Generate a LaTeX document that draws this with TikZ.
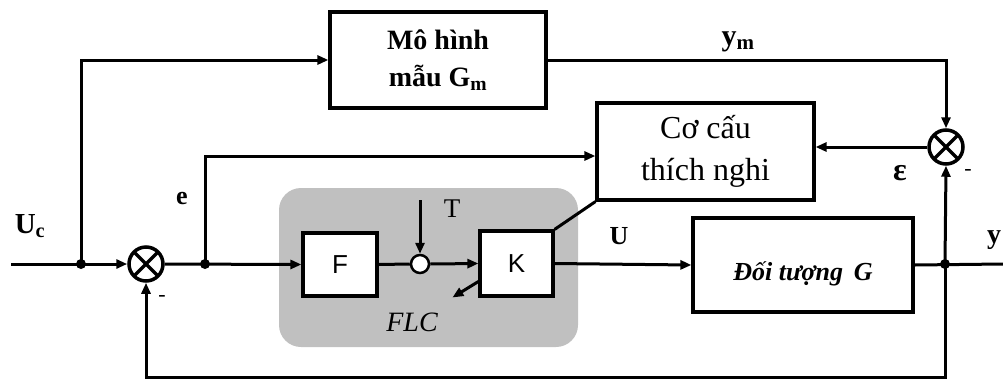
\documentclass[tikz,border=0pt]{standalone}
\usepackage{fontspec}
\setmainfont{Liberation Serif}
\newfontfamily\sansf{Liberation Sans}
\usetikzlibrary{arrows.meta,calc}
\definecolor{flcgray}{RGB}{192,192,192}
\begin{document}
\begin{tikzpicture}[x=1pt,y=-1pt,line width=3pt,
  arr/.style={-{Triangle[length=11pt,width=9pt]}},
  blk/.style={draw,fill=white,line width=3.2pt,align=center,inner sep=0pt},
  sumj/.style={circle,draw,fill=white,line width=3.5pt,minimum size=34pt,inner sep=0pt,
    path picture={\draw[line width=3.5pt]
      (path picture bounding box.north west)--(path picture bounding box.south east)
      (path picture bounding box.north east)--(path picture bounding box.south west);}},
  jdot/.style={circle,fill,inner sep=0pt,minimum size=10pt},
  blbl/.style={font=\fontsize{26}{30}\selectfont\bfseries,inner sep=0pt},
  rlbl/.style={font=\fontsize{27}{30}\selectfont,inner sep=0pt},
  sgn/.style={font=\fontsize{22}{26}\selectfont,inner sep=0pt}]
\useasboundingbox (0,0) rectangle (1003,381);

% FLC background
\node[fill=flcgray,rounded corners=22pt,minimum width=299pt,minimum height=159pt,inner sep=0pt] (flc) at (428.5,267.5) {};

% blocks
\node[blk,minimum width=216pt,minimum height=96pt,font=\fontsize{28}{37}\selectfont\bfseries] (gm) at (438,60) {Mô hình\\mẫu G\textsubscript{m}};
\node[blk,minimum width=217pt,minimum height=97pt,font=\fontsize{32}{42}\selectfont] (adapt) at (705.5,151.5) {Cơ cấu\\thích nghi};
\node[blk,minimum width=74pt,minimum height=63pt,font=\sansf\fontsize{26}{30}\selectfont] (F) at (340,264.5) {F};
\node[blk,minimum width=73pt,minimum height=65pt,font=\sansf\fontsize{26}{30}\selectfont] (K) at (516.5,263.5) {K};
\node[blk,minimum width=220pt,minimum height=94pt] (plant) at (803,265) {};
\node[font=\fontsize{26}{30}\selectfont\bfseries\itshape,inner sep=0pt] (plantlbl) at (803,274) {Đối tượng\, G};

% junctions
\node[sumj] (s1) at (146,264) {};
\node[sumj] (s2) at (946,147) {};
\node[circle,draw,fill=white,line width=2.5pt,minimum size=18pt,inner sep=0pt] (sc) at (420,264) {};
\node[jdot] (d1) at (81,264) {};
\node[jdot] (de) at (205,264) {};
\node[jdot] (dy) at (945,264) {};

\coordinate (in) at (11,264);
\coordinate (out) at (1003,264);
\coordinate (tin) at (420,200);
\coordinate (fbl) at (146,377);
\coordinate (fbr) at (945,377);
\coordinate (kout) at ($(K.west)+(0,18)$);
\coordinate (kend) at ($(kout)+(-26,16)$);

% main path
\draw[arr] (in) -- (s1.west);
\draw[arr] (s1.east) -- (F.west);
\draw (F.east) -- (sc.west);
\draw[arr] (sc.east) -- (K.west);
\draw[arr] (tin) -- (sc.north);
\draw[arr] (K.east) -- (plant.west);
\draw (plant.east) -- (out);
\draw[arr] (kout) -- (kend);
\draw (K.north east) -- (adapt.south west);

% reference model branch
\draw[arr] (d1.center) |- (gm.west);
\draw[arr] (gm.east) -| (s2.north);
\draw[arr] (s2.west) -- (s2.west -| adapt.east);
\draw[arr] (de.center) |- ($(adapt.west)+(0,4.5)$);

% feedback
\draw[arr] (dy.center) -- (s2.south);
\draw[arr] (dy.center) -- (fbr) -- (fbl) -- (s1.south);

% labels
\node[font=\fontsize{29}{32}\selectfont\bfseries,inner sep=0pt] (luc) at (30,226) {U\textsubscript{c}};
\node[blbl] (le) at (182,199) {e};
\node[sgn] (lm1) at (162,298) {-};
\node[rlbl] (lt) at (452,209) {T};
\node[font=\fontsize{28}{30}\selectfont\itshape,inner sep=0pt] (lflc) at (412,322) {FLC};
\node[blbl] (lu) at (619,236) {U};
\node[font=\fontsize{30}{32}\selectfont\bfseries,inner sep=0pt] (lym) at (738,42) {y\textsubscript{m}};
\node[font=\fontsize{32}{34}\selectfont\bfseries,inner sep=0pt] (leps) at (900,173) {ε};
\node[sgn] (lm2) at (968,172) {-};
\node[font=\fontsize{28}{30}\selectfont\bfseries,inner sep=0pt] (ly) at (994,240) {y};
\end{tikzpicture}
\end{document}
